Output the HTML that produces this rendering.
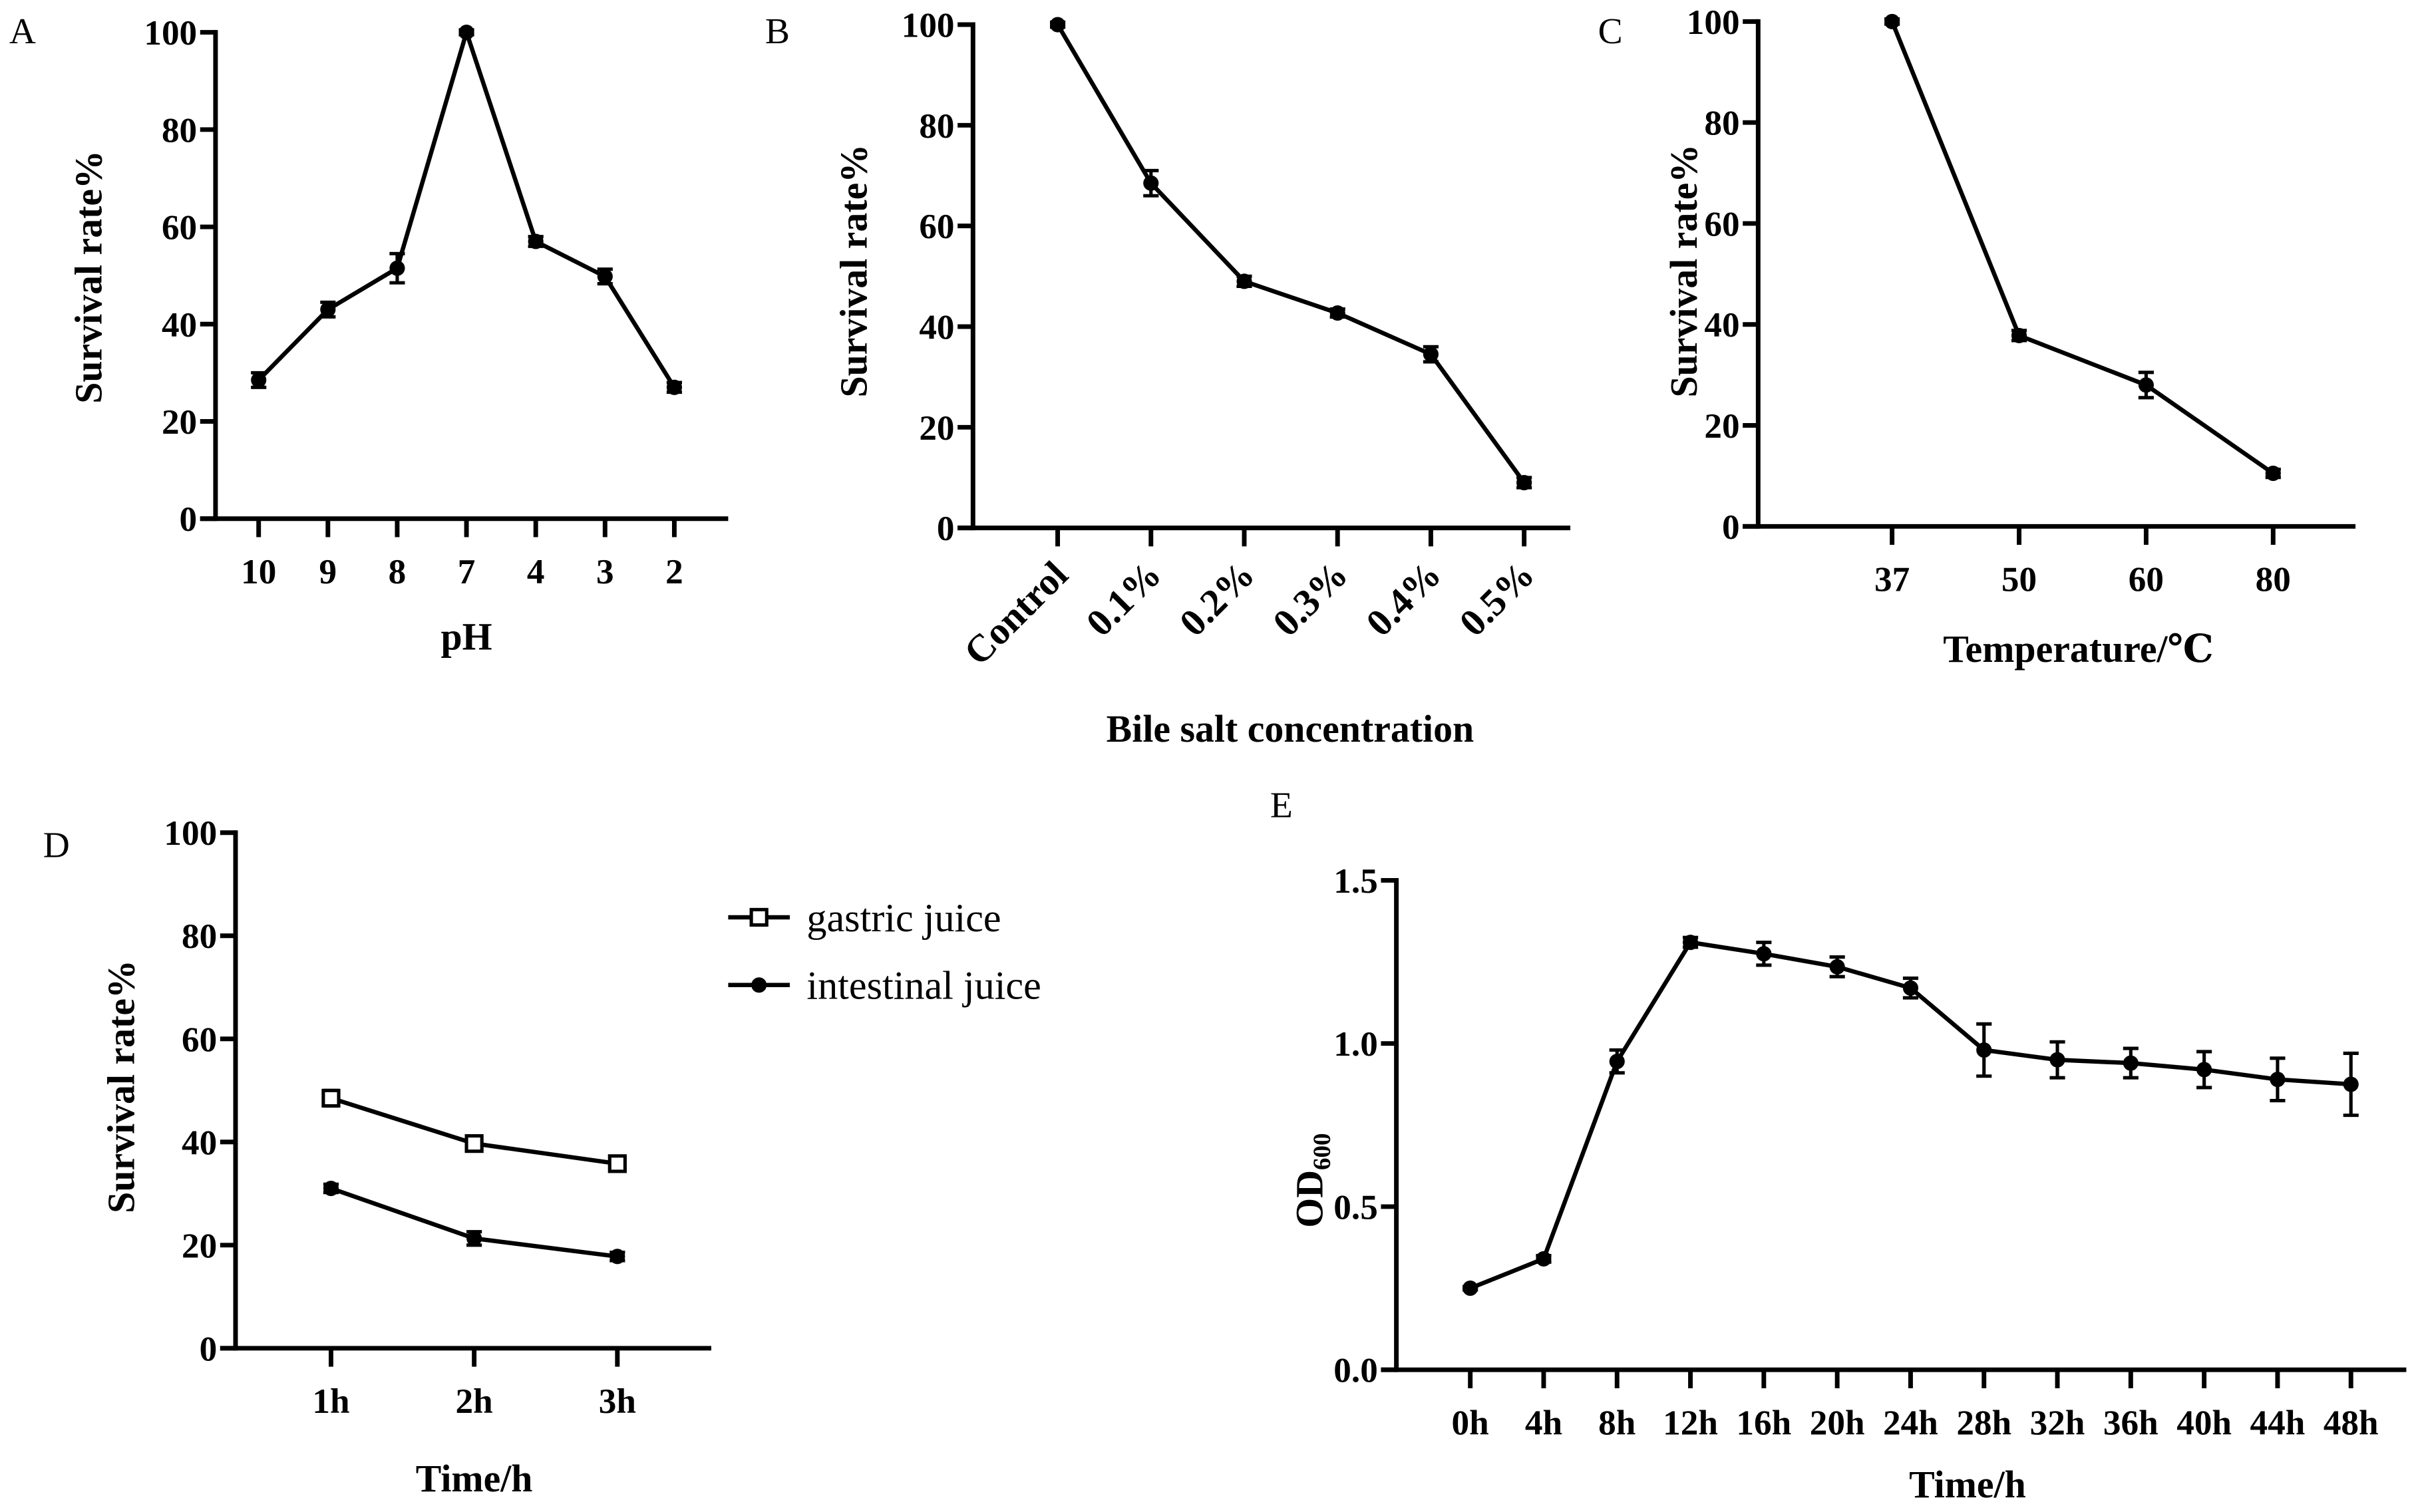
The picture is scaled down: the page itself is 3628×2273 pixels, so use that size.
<!DOCTYPE html>
<html><head><meta charset="utf-8"><style>
html,body{margin:0;padding:0;background:#fff;}
svg{display:block;}
text{font-family:"Liberation Serif","DejaVu Serif",serif;fill:#000;}
.tk{font-weight:bold;font-size:23px;}
.tkr{font-weight:bold;font-size:25px;}
.ttl{font-weight:bold;font-size:25px;}
.pl{font-size:24px;}
.lg{font-size:26px;}
</style></head><body>
<svg id="fig" width="3628" height="2273" viewBox="0 0 1568 982.4" preserveAspectRatio="none" xmlns="http://www.w3.org/2000/svg"></svg>
<script>
// ---- Data ----
const catA = ["10","9","8","7","4","3","2"];
const valA = [28.5, 43, 51.5, 100, 57, 49.8, 27];
const errA = [1.5, 1.5, 3, 0.5, 1, 1.5, 1];
const catB = ["Control","0.1%","0.2%","0.3%","0.4%","0.5%"];
const valB = [100, 68.5, 49, 42.7, 34.5, 9];
const errB = [0.5, 2.5, 1, 0.8, 1.5, 1];
const catC = ["37","50","60","80"];
const valC = [100, 37.8, 28, 10.5];
const errC = [0.5, 1, 2.5, 0.8];
const catD = ["1h","2h","3h"];
const gastric = [48.5, 39.7, 35.8];
const gastricErr = [1.5, 1.2, 1.3];
const intestinal = [31, 21.3, 17.8];
const intestinalErr = [0.8, 1.3, 0.8];
const ticksPct = [0, 20, 40, 60, 80, 100];
const catE = ["0h","4h","8h","12h","16h","20h","24h","28h","32h","36h","40h","44h","48h"];
const valE = [0.25, 0.34, 0.945, 1.31, 1.275, 1.235, 1.17, 0.98, 0.95, 0.94, 0.92, 0.89, 0.875];
const errE = [0.005, 0.01, 0.035, 0.015, 0.035, 0.03, 0.03, 0.08, 0.055, 0.045, 0.055, 0.065, 0.095];
const ticksE = [0, 0.5, 1.0, 1.5];
const ticksELabels = ["0.0","0.5","1.0","1.5"];

const NS = "http://www.w3.org/2000/svg";
const svg = document.getElementById('fig');
function mk(tag, attrs, parent, text){
  const e = document.createElementNS(NS, tag);
  for (const k in attrs) e.setAttribute(k, attrs[k]);
  if (text !== undefined) e.textContent = text;
  (parent || svg).appendChild(e);
  return e;
}

function panel(o){
  const g = mk('g', {});
  
  
  const y = v => o.y0 - (v - o.ymin) / (o.ymax - o.ymin) * (o.y0 - o.y1);
  const x = i => o.xs + i * o.step;
  const ya = mk('line', {x1:o.ax, y1:o.y1 - 1.5, x2:o.ax, y2:o.y0 + 1.5, stroke:'#000', 'stroke-width':3}, g);
  
  
  const xa = mk('line', {x1:o.ax - 10, y1:o.y0, x2:o.xend, y2:o.y0, stroke:'#000', 'stroke-width':3}, g);
  
  
  o.yt.forEach((t, i) => {
    mk('line', {x1:o.ax - 10, y1:y(t), x2:o.ax, y2:y(t), stroke:'#000', 'stroke-width':3}, g);
    const tl = mk('text', {x:o.ax - 12, y:y(t) + 8, 'text-anchor':'end', class:'tk'}, g, o.ytl ? o.ytl[i] : String(t));
    
    
  });
  o.cats.forEach((c, i) => {
    mk('line', {x1:x(i), y1:o.y0, x2:x(i), y2:o.y0 + 12, stroke:'#000', 'stroke-width':3}, g);
    let tl;
    if (o.rot) {
      tl = mk('text', {x:x(i) + 8, y:o.y0 + 32, 'text-anchor':'end', class:'tkr', transform:`rotate(-45 ${x(i)+8} ${o.y0+32})`}, g, c);
    } else {
      tl = mk('text', {x:x(i), y:o.y0 + 42, 'text-anchor':'middle', class:'tk'}, g, c);
    }
    
    
  });
  o.series.forEach(s => {
    const pts = s.v.map((v, i) => x(i) + ',' + y(v)).join(' ');
    const pl = mk('polyline', {points:pts, fill:'none', stroke:'#000', 'stroke-width':2.8, 'stroke-linejoin':'miter'}, g);
    
    
    s.v.forEach((v, i) => {
      const e = s.e[i];
      const eb = mk('path', {d:`M${x(i)},${y(v+e)}V${y(v-e)}M${x(i)-5},${y(v+e)}H${x(i)+5}M${x(i)-5},${y(v-e)}H${x(i)+5}`, stroke:'#000', 'stroke-width':2.2, fill:'none'}, g);
      
      
      let m;
      if (s.square) {
        m = mk('rect', {x:x(i)-5, y:y(v)-5, width:10, height:10, fill:'#fff', stroke:'#000', 'stroke-width':2.2}, g);
      } else {
        m = mk('circle', {cx:x(i), cy:y(v), r:5, fill:'#000'}, g);
      }
      
      
    });
  });
  return g;
}

panel({name:'panel-a-ph', ax:140, y0:337, y1:21, ymin:0, ymax:100, xend:473, xs:168, step:45, cats:catA, yt:ticksPct,
  series:[{name:'ph', v:valA, e:errA}]});
panel({name:'panel-b-bile', ax:632, y0:343, y1:16, ymin:0, ymax:100, xend:1020, xs:687, step:60.6, cats:catB, yt:ticksPct, rot:true,
  series:[{name:'bile', v:valB, e:errB}]});
panel({name:'panel-c-temperature', ax:1142, y0:342, y1:14, ymin:0, ymax:100, xend:1530, xs:1229, step:82.5, cats:catC, yt:ticksPct,
  series:[{name:'temperature', v:valC, e:errC}]});
panel({name:'panel-d-juice', ax:153, y0:876, y1:541, ymin:0, ymax:100, xend:462, xs:215, step:93, cats:catD, yt:ticksPct,
  series:[{name:'gastric', v:gastric, e:gastricErr, square:true},{name:'intestinal', v:intestinal, e:intestinalErr}]});
panel({name:'panel-e-growth', ax:907, y0:890, y1:572, ymin:0, ymax:1.5, xend:1563, xs:955, step:47.67, cats:catE, yt:ticksE, ytl:ticksELabels,
  series:[{name:'od600', v:valE, e:errE}]});
</script>
<svg style="position:absolute;left:0;top:0" width="3628" height="2273" viewBox="0 0 1568 982.4" preserveAspectRatio="none" xmlns="http://www.w3.org/2000/svg">
  <text x="6" y="28" class="pl">A</text>
  <text x="497" y="28" class="pl">B</text>
  <text x="1038" y="28" class="pl">C</text>
  <text x="28" y="557" class="pl">D</text>
  <text x="825" y="531" class="pl">E</text>

  <text x="66" y="180" class="ttl" text-anchor="middle" transform="rotate(-90 66 180)">Survival rate%</text>
  <text x="303" y="422" class="ttl" text-anchor="middle">pH</text>
  <text x="563" y="176" class="ttl" text-anchor="middle" transform="rotate(-90 563 176)">Survival rate%</text>
  <text x="838" y="482" class="ttl" text-anchor="middle">Bile salt concentration</text>
  <text x="1102" y="176" class="ttl" text-anchor="middle" transform="rotate(-90 1102 176)">Survival rate%</text>
  <text x="1350" y="430" class="ttl" text-anchor="middle">Temperature/℃</text>
  <text x="87" y="706" class="ttl" text-anchor="middle" transform="rotate(-90 87 706)">Survival rate%</text>
  <text x="308" y="969" class="ttl" text-anchor="middle">Time/h</text>
  <text x="859" y="767" class="ttl" text-anchor="middle" transform="rotate(-90 859 767)">OD<tspan font-size="16" dy="5">600</tspan></text>
  <text x="1278" y="973" class="ttl" text-anchor="middle">Time/h</text>

  <g>
    <g>
      <line x1="473" y1="596" x2="513" y2="596" stroke="#000" stroke-width="2.8"/>
      <rect x="488" y="591" width="10" height="10" fill="#fff" stroke="#000" stroke-width="2.2"/>
      <text x="524" y="605" class="lg">gastric juice</text>
    </g>
    <g>
      <line x1="473" y1="640" x2="513" y2="640" stroke="#000" stroke-width="2.8"/>
      <circle cx="493" cy="640" r="5" fill="#000"/>
      <text x="524" y="649" class="lg">intestinal juice</text>
    </g>
  </g>
</svg>
</body></html>
